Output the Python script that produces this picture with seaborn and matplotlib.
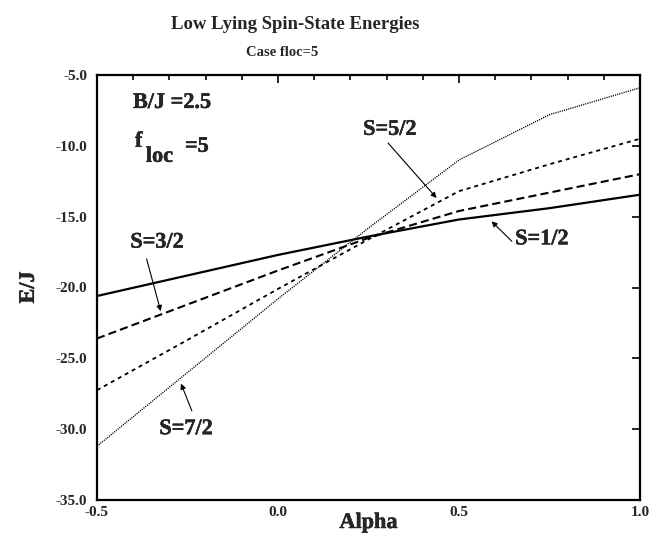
import matplotlib
matplotlib.use("Agg")
import matplotlib.pyplot as plt
import matplotlib.patheffects as pe
from matplotlib.ticker import MultipleLocator, FormatStrFormatter
from matplotlib.font_manager import FontProperties
import seaborn as sns
import pandas as pd

# ---- data ----
alpha = [-0.5, -0.25, 0.0, 0.25, 0.5, 0.75, 1.0]
e_s12 = [-20.6, -19.15, -17.7, -16.4, -15.2, -14.4, -13.45]
e_s32 = [-23.6, -21.2, -18.8, -16.5, -14.6, -13.3, -12.0]
e_s52 = [-27.25, -23.7, -20.1, -16.6, -13.2, -11.3, -9.5]
e_s72 = [-31.2, -26.0, -20.8, -15.8, -11.0, -7.8, -5.9]
series_names = ["S=1/2", "S=3/2", "S=5/2", "S=7/2"]
x_ticks = [-0.5, 0.0, 0.5, 1.0]
y_ticks = [-35.0, -30.0, -25.0, -20.0, -15.0, -10.0, -5.0]

sns.set_theme(style="white")
plt.rcParams["font.family"] = ["Liberation Serif", "DejaVu Serif"]
plt.rcParams["font.weight"] = "bold"
plt.rcParams["axes.unicode_minus"] = False


def fp(size):
    return FontProperties(family="Liberation Serif", weight="bold", size=size)


heavy = [pe.withStroke(linewidth=0.3, foreground="black")]

fig = plt.figure(figsize=(6.51, 5.41), dpi=100)
ax = fig.add_axes([97/651, 1-500/541, (640-97)/651, (500-75)/541])

styles = {
    "S=1/2": dict(linestyle="-", lw=1.6),
    "S=3/2": dict(linestyle=(0, (3.9, 2.0)), lw=1.5),
    "S=5/2": dict(linestyle=(0, (2.2, 2.2)), lw=1.3),
    "S=7/2": dict(linestyle=(0, (0.8, 0.8)), lw=1.0),
}
values = [e_s12, e_s32, e_s52, e_s72]
for name, vals in zip(series_names, values):
    df = pd.DataFrame({"alpha": alpha, "E": vals})
    sns.lineplot(data=df, x="alpha", y="E", ax=ax, color="black",
                 legend=False, **styles[name])

ax.set_xlim(-0.5, 1.0)
ax.set_ylim(-35.0, -5.0)
ax.set_xticks(x_ticks)
ax.set_yticks(y_ticks)
ax.xaxis.set_minor_locator(MultipleLocator(0.1))
ax.xaxis.set_major_formatter(FormatStrFormatter("%.1f"))
ax.yaxis.set_major_formatter(FormatStrFormatter("%.1f"))
ax.tick_params(axis="both", which="both", direction="in", top=True, right=True,
               color="black", width=1.2)
ax.tick_params(axis="both", which="major", length=6)
ax.tick_params(axis="x", which="minor", length=3.5)
ax.tick_params(axis="y", which="major", pad=7)
ax.tick_params(axis="x", which="major", pad=4)
fig.canvas.draw()
for lab in ax.get_xticklabels() + ax.get_yticklabels():
    lab.set_fontproperties(fp(11))
for sp in ax.spines.values():
    sp.set_color("black")
    sp.set_linewidth(1.6)

ax.set_xlabel("Alpha", fontproperties=fp(16), labelpad=-4, path_effects=heavy)
ax.set_ylabel("E/J", fontproperties=fp(16), labelpad=12, path_effects=heavy)

fig.text(295/651, 1-29/541, "Low Lying Spin-State Energies", ha="center",
         va="baseline", fontproperties=fp(13.5))
fig.text(282/651, 1-56/541, "Case floc=5", ha="center", va="baseline",
         fontproperties=fp(10.5))

# annotations
ax.text(-0.4006, -6.97, "B/J =2.5", ha="left", va="center",
        fontproperties=fp(16), path_effects=heavy)
ax.text(-0.395, -10.07, "f", ha="left", va="baseline",
        fontproperties=fp(16), path_effects=heavy)
ax.text(-0.365, -11.13, "loc", ha="left", va="baseline",
        fontproperties=fp(16), path_effects=heavy)
ax.text(-0.257, -10.42, "=5", ha="left", va="baseline",
        fontproperties=fp(16), path_effects=heavy)

arrow = dict(arrowstyle="-|>", color="black", lw=0.8, mutation_scale=8,
             shrinkA=0, shrinkB=0)
labels = [
    ("S=3/2", (-0.334, -16.83), (-0.363, -17.98), (-0.324, -21.67)),
    ("S=5/2", (0.309, -8.87), (0.304, -9.8), (0.438, -13.68)),
    ("S=1/2", (0.729, -16.6), (0.646, -16.74), (0.590, -15.33)),
    ("S=7/2", (-0.254, -30.0), (-0.238, -28.71), (-0.268, -26.78)),
]
for txt, pos, start, tip in labels:
    ax.text(pos[0], pos[1], txt, ha="center", va="center",
            fontproperties=fp(16), path_effects=heavy)
    ax.annotate("", xy=tip, xytext=start, arrowprops=arrow)

fig.savefig("out.png", dpi=100)
